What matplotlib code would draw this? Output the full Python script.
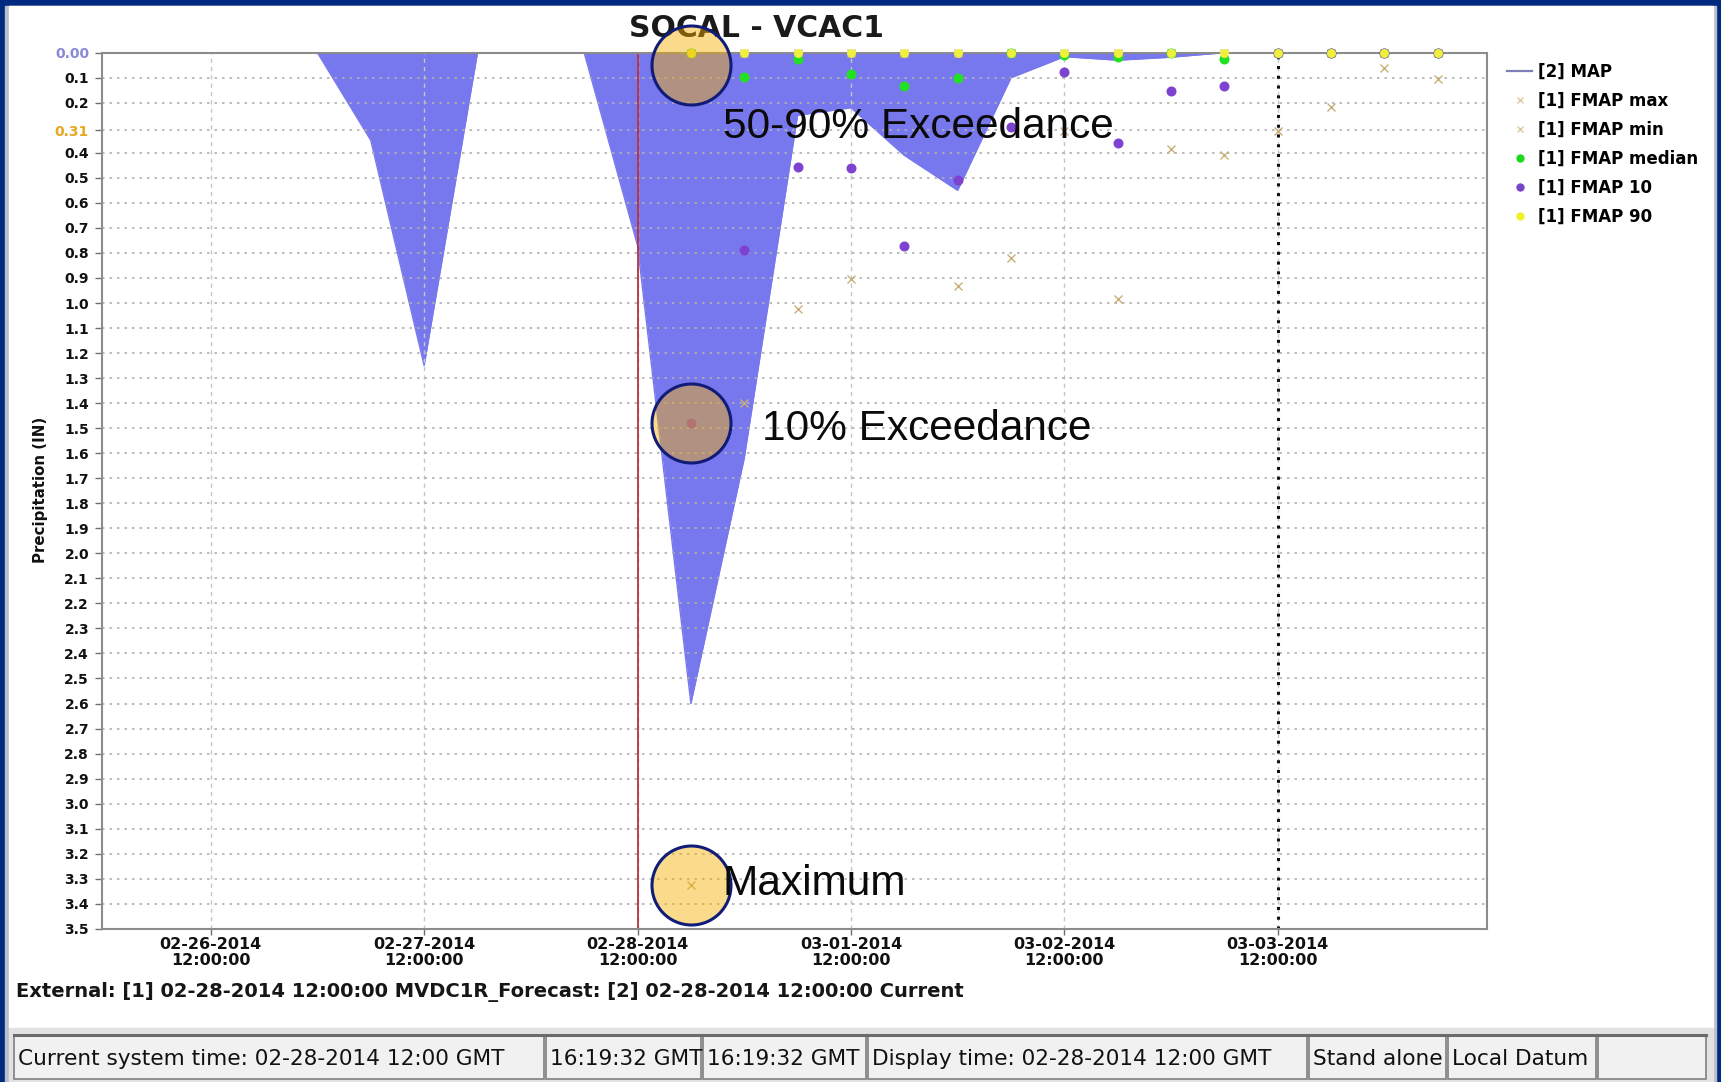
import numpy as np
import pandas as pd
import matplotlib
matplotlib.use("Agg")
import matplotlib.pyplot as plt
import matplotlib.dates as mdates
from matplotlib.patches import Rectangle
from matplotlib.lines import Line2D

plt.rcParams["font.family"] = ["DejaVu Sans"]

# 데이터

W, H, DPI = 1721, 1082, 100

MAP_TIMES = pd.date_range("2014-02-26 00:00", "2014-03-03 06:00", freq="6h")
MAP_VALUES = [0.0, 0.0, 0.0, 0.0, 0.0, 0.35, 1.25, 0.0, 0.0, 0.0, 0.77, 2.60,
              1.62, 0.25, 0.22, 0.41, 0.55, 0.10, 0.016, 0.03, 0.018, 0.0]

FMAP_TIMES = pd.date_range("2014-02-28 18:00", "2014-03-04 06:00", freq="6h")
FMAP_MAX = [3.325, 1.40, 1.025, 0.905, np.nan, 0.932, 0.82, 0.312, 0.984, 0.383,
            0.409, 0.311, 0.217, 0.06, 0.107]
FMAP_MIN = [0.0, 0.0, 0.0, 0.0, 0.0, 0.0, 0.0, 0.0, 0.0, 0.0, 0.0, 0.0, 0.0, 0.0, 0.0]
FMAP_MEDIAN = [0.0, 0.096, 0.027, 0.085, 0.133, 0.103, 0.0, 0.01, 0.018, 0.0,
               0.027, 0.0, 0.0, 0.0, 0.0]
FMAP_10 = [1.48, 0.79, 0.455, 0.462, 0.774, 0.509, 0.295, 0.076, 0.36, 0.154,
           0.134, 0.0, 0.0, 0.0, 0.0]
FMAP_90 = [0.0, 0.0, 0.0, 0.0, 0.0, 0.0, 0.0, 0.0, 0.0, 0.0, 0.0, 0.0, 0.0, 0.0, 0.0]

Y_TICKS = [0.0, 0.1, 0.2, 0.31] + [round(0.1 * i, 1) for i in range(4, 36)]
Y_LABELS = ["0.00", "0.1", "0.2", "0.31"] + [f"{v:.1f}" for v in Y_TICKS[4:]]
X_TICKS = pd.date_range("2014-02-26 12:00", "2014-03-03 12:00", freq="D")

CURRENT_TIME = pd.Timestamp("2014-02-28 12:00")
FORECAST_MARK = pd.Timestamp("2014-03-03 12:00")
X_START = pd.Timestamp("2014-02-25 23:43")
X_END = pd.Timestamp("2014-03-04 11:30")

# 설명 원: (텍스트, 값, 텍스트 오프셋 px)
CALLOUT_TIME = FMAP_TIMES[0]
CALLOUTS = [
    ("50-90% Exceedance", 0.05, (32, -73)),
    ("10% Exceedance", FMAP_10[0], (71, -17)),
    ("Maximum", FMAP_MAX[0], (32, -10)),
]

STATUS_BOXES = [13, 545, 702, 867, 1308, 1447, 1597, 1707]
STATUS_TEXTS = ["Current system time: 02-28-2014 12:00 GMT", "16:19:32 GMT",
                "16:19:32 GMT", "Display time: 02-28-2014 12:00 GMT",
                "Stand alone", "Local Datum", ""]
FOOTER = "External: [1] 02-28-2014 12:00:00 MVDC1R_Forecast: [2] 02-28-2014 12:00:00 Current"

NAVY = "#002a80"
FILL = "#7878ee"
PX = 72 / DPI  # 픽셀 -> 포인트

fig = plt.figure(figsize=(W / DPI, H / DPI), dpi=DPI)
fig.patch.set_facecolor(NAVY)

# 창 테두리, 상태바
ui = fig.add_axes([0, 0, 1, 1], zorder=-1)
ui.set_xlim(0, W)
ui.set_ylim(H, 0)
ui.axis("off")
ui.add_patch(Rectangle((5, 6), 1711, H - 6, color="#b9bccb"))
ui.add_patch(Rectangle((9, 6), 1704, 1022, color="white"))
ui.add_patch(Rectangle((9, 1028), 1704, 54, color="#e2e2e2"))
for x0, x1, txt in zip(STATUS_BOXES[:-1], STATUS_BOXES[1:], STATUS_TEXTS):
    ui.add_patch(Rectangle((x0 + 1, 1035), x1 - x0 - 2, 44, facecolor="#f1f1f1",
                           edgecolor="#808080", lw=1.2))
    ui.plot([x0 + 1, x1 - 1], [1035, 1035], color="#6a6a6a", lw=2.2)
    ui.text(x0 + 5, 1059, txt, fontsize=15.6, va="center", ha="left", color="#111111")
ui.text(16, 992, FOOTER, fontsize=14, fontweight="bold", va="center", ha="left",
        color="#161616")

# 메인 차트
ax = fig.add_axes([101.5 / W, 1 - 928.8 / H, (1486.7 - 101.5) / W, (928.8 - 52.7) / H])
ax.set_facecolor("white")

ax.fill_between(MAP_TIMES, 0, MAP_VALUES, color=FILL, lw=0, zorder=1)
ax.plot(MAP_TIMES, MAP_VALUES, color=FILL, lw=1, zorder=1.1)

ax.axvline(CURRENT_TIME, color="#b8303c", lw=1.3, zorder=2.5)
ax.axvline(FORECAST_MARK, color="#111111", lw=2.2, linestyle=(0, (1, 2.2)), zorder=2.5)

ax.plot(FMAP_TIMES, FMAP_MAX, ls="none", marker="x", ms=5.5, mew=1.0,
        color="#c8b07a", zorder=3, clip_on=False)
ax.plot(FMAP_TIMES, FMAP_MIN, ls="none", marker="x", ms=5.5, mew=1.0,
        color="#c8b07a", zorder=3, clip_on=False)
ax.plot(FMAP_TIMES, FMAP_MEDIAN, ls="none", marker="o", ms=10 * PX, mew=0,
        color="#22e022", zorder=3, clip_on=False)
ax.plot(FMAP_TIMES, FMAP_10, ls="none", marker="o", ms=10 * PX, mew=0,
        color="#7d42cf", zorder=3, clip_on=False)
ax.plot(FMAP_TIMES, FMAP_90, ls="none", marker="o", ms=9 * PX, mew=0,
        color="#f0f03c", zorder=3, clip_on=False)

# 주석 원과 텍스트
for label, value, (dx, dy) in CALLOUTS:
    ax.scatter([CALLOUT_TIME], [value], s=(79 * PX) ** 2,
               facecolors=[(0.96, 0.69, 0.0, 0.45)], edgecolors="#101c78",
               linewidths=2.2, zorder=10, clip_on=False)
    ax.annotate(label, xy=(CALLOUT_TIME, value), xytext=(dx * PX, dy * PX),
                textcoords="offset points", ha="left", va="baseline",
                fontsize=30.5, family="Liberation Sans", color="#0a0a0a",
                zorder=11, annotation_clip=False)

ax.text(756 / W, 1 - 37.3 / H, "SOCAL - VCAC1", transform=fig.transFigure,
        ha="center", va="baseline", fontsize=21.5, fontweight="bold",
        color="#1a1a1a", zorder=4)

ax.set_xlim(X_START, X_END)
ax.set_ylim(3.5, 0)

ax.set_yticks(Y_TICKS)
ax.set_yticklabels(Y_LABELS, fontsize=10, fontweight="bold", color="#111111")
ax.get_yticklabels()[0].set_color("#8a8ad8")
ax.get_yticklabels()[3].set_color("#e8a822")

ax.set_xticks(X_TICKS)
ax.xaxis.set_major_formatter(mdates.DateFormatter("%m-%d-%Y\n%H:%M:%S"))
for t in ax.get_xticklabels():
    t.set_fontsize(11.5)
    t.set_fontweight("bold")
    t.set_color("#111111")
    t.set_linespacing(1.05)

ax.tick_params(axis="y", length=5, width=1, color="#707070", pad=4)
ax.tick_params(axis="x", length=4, width=1, color="#707070", pad=2)

ax.yaxis.grid(True, linestyle=(0, (1.5, 3)), color="#b0b0b0", lw=1.2)
ax.xaxis.grid(True, linestyle=(0, (3, 3)), color="#c6c6c6", lw=1.0)

for sp in ax.spines.values():
    sp.set_color("#8c8c8c")
    sp.set_linewidth(1.5)

ax.set_ylabel("Precipitation (IN)", fontsize=10.8, fontweight="bold", color="#111111")
ax.yaxis.label.set_va("center")
ax.yaxis.set_label_coords(40.6 / W, 1 - 490 / H, transform=fig.transFigure)

handles = [
    Line2D([], [], color="#7f7fb8", lw=1.6),
    Line2D([], [], ls="none", marker="x", ms=4, mew=1, color="#dccaa0"),
    Line2D([], [], ls="none", marker="x", ms=4, mew=1, color="#dccaa0"),
    Line2D([], [], ls="none", marker="o", ms=6, mew=0, color="#1ed81e"),
    Line2D([], [], ls="none", marker="o", ms=6, mew=0, color="#7a44c8"),
    Line2D([], [], ls="none", marker="o", ms=6, mew=0, color="#f0f028"),
]
labels = ["[2] MAP", "[1] FMAP max", "[1] FMAP min", "[1] FMAP median",
          "[1] FMAP 10", "[1] FMAP 90"]
ax.legend(handles, labels, loc="upper left", bbox_to_anchor=(1507 / W, 1 - 63 / H),
          bbox_transform=fig.transFigure, frameon=False, handlelength=1.5,
          handletextpad=0.35, labelspacing=0.66, borderaxespad=0, borderpad=0,
          prop={"weight": "bold", "size": 12})

fig.savefig("out.png", dpi=DPI, facecolor=fig.get_facecolor())
